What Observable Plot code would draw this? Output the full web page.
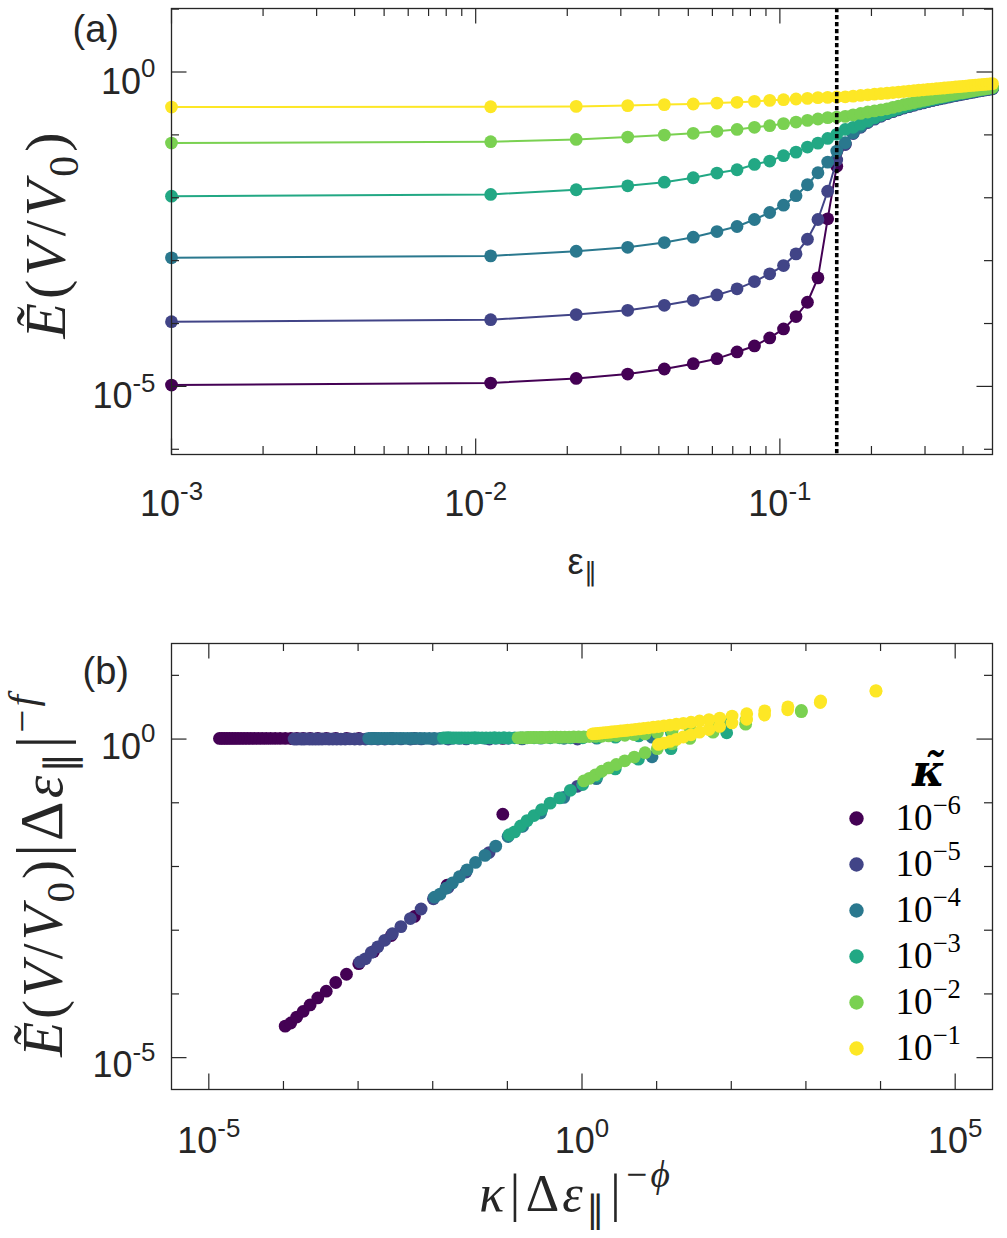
<!DOCTYPE html>
<html>
<head>
<meta charset="utf-8">
<script src="https://cdn.jsdelivr.net/npm/d3@7"></script>
<script src="https://cdn.jsdelivr.net/npm/@observablehq/plot@0.6"></script>
<style>
  html, body { margin: 0; padding: 0; background: #fff; }
  #wrap { position: relative; width: 1007px; height: 1238px; overflow: hidden; }
  #wrap svg { display: block; }
  #legend { position: absolute; left: 830px; top: 740px; }
</style>
</head>
<body>
<div id="wrap"><div id="pa"></div><div id="pb"></div><div id="legend"></div></div>
<script>
// ---------------- data ----------------
const strain = [0.001, 0.0112, 0.0214, 0.0316, 0.0417, 0.0519, 0.0621, 0.0723, 0.0825, 0.0926,
  0.1028, 0.1130, 0.1232, 0.1334, 0.1436, 0.1538, 0.1640, 0.1741, 0.1843, 0.1945,
  0.2047, 0.2149, 0.2250, 0.2352, 0.2454, 0.2556, 0.2658, 0.2760, 0.2861, 0.2963,
  0.3065, 0.3167, 0.3269, 0.3371, 0.3472, 0.3574, 0.3676, 0.3778, 0.3880, 0.3982,
  0.4083, 0.4185, 0.4287, 0.4389, 0.4491, 0.4593, 0.4694, 0.4796, 0.4898, 0.5000];

const kappaLabels = ["1e-6", "1e-5", "1e-4", "1e-3", "1e-2", "1e-1"];
const kappaValues = [1e-6, 1e-5, 1e-4, 1e-3, 1e-2, 1e-1];
const kappaLegendText = ["10^\u22126", "10^\u22125", "10^\u22124", "10^\u22123", "10^\u22122", "10^\u22121"];
const kappaColors = ["#440154", "#414487", "#2a788e", "#22a884", "#7ad151", "#fde725"];

const energy_1e6 = [1.05e-5, 1.13e-5, 1.34e-5, 1.57e-5, 1.89e-5, 2.30e-5, 2.76e-5, 3.53e-5, 4.40e-5, 5.90e-5,
  8.20e-5, 1.29e-4, 2.18e-4, 5.32e-4, 4.63e-3, 3.18e-2,
  0.0716, 0.107, 0.135, 0.160, 0.182, 0.202, 0.221, 0.239, 0.256, 0.272, 0.287, 0.302, 0.317, 0.330,
  0.344, 0.357, 0.370, 0.383, 0.394, 0.406, 0.418, 0.430, 0.442, 0.452, 0.462, 0.473, 0.484, 0.494,
  0.505, 0.514, 0.524, 0.535, 0.543, 0.553];
const energy_1e5 = [1.07e-4, 1.15e-4, 1.39e-4, 1.62e-4, 1.95e-4, 2.34e-4, 2.85e-4, 3.56e-4, 4.65e-4, 6.17e-4,
  8.36e-4, 1.28e-3, 2.19e-3, 4.51e-3, 1.27e-2, 3.98e-2,
  0.0702, 0.105, 0.132, 0.157, 0.178, 0.198, 0.217, 0.234, 0.251, 0.267, 0.281, 0.296, 0.311, 0.323,
  0.337, 0.350, 0.363, 0.375, 0.386, 0.398, 0.410, 0.421, 0.433, 0.443, 0.453, 0.464, 0.474, 0.484,
  0.495, 0.504, 0.514, 0.524, 0.532, 0.542];
const energy_1e4 = [1.11e-3, 1.19e-3, 1.41e-3, 1.63e-3, 1.94e-3, 2.36e-3, 2.90e-3, 3.49e-3, 4.51e-3, 5.83e-3,
  7.62e-3, 1.08e-2, 1.61e-2, 2.50e-2, 3.69e-2, 5.52e-2,
  0.0750, 0.108, 0.136, 0.161, 0.183, 0.203, 0.222, 0.240, 0.257, 0.273, 0.288, 0.303, 0.318, 0.331,
  0.345, 0.358, 0.371, 0.384, 0.395, 0.407, 0.419, 0.431, 0.443, 0.453, 0.463, 0.474, 0.485, 0.495,
  0.506, 0.515, 0.525, 0.536, 0.544, 0.554];
const energy_1e3 = [0.0106, 0.0113, 0.0134, 0.0155, 0.0177, 0.0208, 0.0247, 0.0279, 0.0339, 0.0383,
  0.0467, 0.0532, 0.0640, 0.0740, 0.0879, 0.102,
  0.122, 0.132, 0.148, 0.167, 0.188, 0.207, 0.226, 0.244, 0.262, 0.279, 0.294, 0.309, 0.324, 0.338,
  0.352, 0.366, 0.378, 0.392, 0.404, 0.416, 0.428, 0.440, 0.452, 0.462, 0.473, 0.484, 0.495, 0.506,
  0.516, 0.526, 0.536, 0.547, 0.556, 0.566];
const energy_1e2 = [0.0741, 0.0780, 0.0847, 0.0923, 0.0993, 0.106, 0.114, 0.122, 0.132, 0.140,
  0.151, 0.160, 0.170, 0.179, 0.188, 0.192,
  0.197, 0.208, 0.219, 0.231, 0.240, 0.249, 0.260, 0.274, 0.287, 0.302, 0.315, 0.327, 0.340, 0.354,
  0.365, 0.378, 0.392, 0.401, 0.413, 0.426, 0.438, 0.450, 0.462, 0.468, 0.479, 0.490, 0.501, 0.512,
  0.522, 0.532, 0.536, 0.547, 0.556, 0.566];
const energy_1e1 = [0.277, 0.280, 0.284, 0.292, 0.303, 0.310, 0.321, 0.330, 0.341, 0.354,
  0.363, 0.372, 0.381, 0.391, 0.395, 0.400,
  0.403, 0.413, 0.424, 0.434, 0.444, 0.453, 0.461, 0.471, 0.480, 0.488, 0.497, 0.505, 0.513, 0.521,
  0.528, 0.536, 0.543, 0.551, 0.557, 0.565, 0.571, 0.578, 0.585, 0.592, 0.598, 0.605, 0.611, 0.617,
  0.624, 0.630, 0.635, 0.641, 0.647, 0.653];

// critical strain (dotted line) and scaling exponents used for the collapse in panel (b)
const EPS_C = 0.1538;
const PHI = 2.48;
const F_EXP = 0.58;

// tick values
const xMajorA = [1e-3, 1e-2, 1e-1];
const xMinorA = [0.002, 0.003, 0.004, 0.005, 0.006, 0.007, 0.008, 0.009,
  0.02, 0.03, 0.04, 0.05, 0.06, 0.07, 0.08, 0.09, 0.2, 0.3, 0.4];
const yMajorA = [1e-5, 1];
const yMinorA = [1e-6, 1e-4, 1e-3, 1e-2, 1e-1, 10];
const xMajorB = [1e-5, 1, 1e5];
const xMinorB = [1e-4, 1e-3, 1e-2, 1e-1, 10, 100, 1e3, 1e4];
const yMajorB = [1e-5, 1];
const yMinorB = [1e-4, 1e-3, 1e-2, 1e-1, 10];

// ---------------- tables ----------------
const energySeries = [energy_1e6, energy_1e5, energy_1e4, energy_1e3, energy_1e2, energy_1e1];
const rowsA = [];
kappaLabels.forEach((lab, s) => strain.forEach((x, k) => rowsA.push({kappa: lab, s, x, E: energySeries[s][k]})));
const rowsB = rowsA
  .filter(d => Math.abs(d.x - EPS_C) > 1e-9)
  .map(d => {
    const de = Math.abs(d.x - EPS_C);
    return {kappa: d.kappa, s: d.s, bx: kappaValues[d.s] * Math.pow(de, -PHI), by: d.E * Math.pow(de, -F_EXP)};
  });

// ---------------- rich text helper (sub/superscripts, italics) ----------------
const NS = "http://www.w3.org/2000/svg";
const RICH = new Map();
function rich(segs, opts = {}) { const plain = segs.map(s => s[0]).join(""); RICH.set(plain, {segs, opts}); return plain; }
function applyRich(root) {
  root.querySelectorAll("text").forEach(t => {
    const txt = t.textContent;
    let entry = RICH.get(txt);
    if (!entry) { const m = /^10\^(.+)$/.exec(txt); if (m) entry = {segs: [["10"], [m[1], {sup: 1}]], opts: {}}; }
    if (!entry) return;
    const {segs, opts} = entry;
    const fs = parseFloat(getComputedStyle(t).fontSize);
    if (opts.ls) t.setAttribute("letter-spacing", opts.ls + "px");
    while (t.firstChild) t.removeChild(t.firstChild);
    let cur = 0;
    for (const [s, o = {}] of segs) {
      const ts = document.createElementNS(NS, "tspan");
      ts.textContent = s;
      const shift = o.sup ? -0.45 : o.sub ? 0.22 : 0;
      let size = (o.sup || o.sub) ? 0.72 : 1;
      if (o.scale) size *= o.scale;
      if (size !== 1) ts.setAttribute("font-size", (size * fs) + "px");
      if (o.i) ts.setAttribute("font-style", "italic");
      if (shift !== cur) { ts.setAttribute("dy", ((shift - cur) * fs) + "px"); cur = shift; }
      if (o.dx) ts.setAttribute("dx", (o.dx * fs) + "px");
      t.appendChild(ts);
    }
  });
}

const ink = "#262626";
const serif = "'Liberation Serif', 'Times New Roman', serif";
const sans = "'Liberation Sans', Arial, Helvetica, sans-serif";
const W = 1007;

function boxTicks(xMaj, xMin, yMaj, yMin, iw, ih) {
  const st = {stroke: ink, strokeWidth: 1.2};
  const LM = 15.5, Lm = 8;
  return [
    Plot.tickX(xMaj, {x: d => d, insetTop: ih - LM, ...st}),
    Plot.tickX(xMaj, {x: d => d, insetBottom: ih - LM, ...st}),
    Plot.tickX(xMin, {x: d => d, insetTop: ih - Lm, ...st}),
    Plot.tickX(xMin, {x: d => d, insetBottom: ih - Lm, ...st}),
    Plot.tickY(yMaj, {y: d => d, insetRight: iw - LM, ...st}),
    Plot.tickY(yMaj, {y: d => d, insetLeft: iw - LM, ...st}),
    Plot.tickY(yMin, {y: d => d, insetRight: iw - Lm, ...st}),
    Plot.tickY(yMin, {y: d => d, insetLeft: iw - Lm, ...st}),
    Plot.frame({stroke: ink, strokeWidth: 1.3})
  ];
}
const expFmt = d => "10^" + Math.round(Math.log10(d));
const DOT_R = 6.4;

// ---------------- panel (a) ----------------
const A = {h: 620, mt: 8, mb: 166, ml: 171, mr: 15};
const iwA = W - A.ml - A.mr, ihA = A.h - A.mt - A.mb;
const marksA = [];
kappaLabels.forEach(lab => {
  const rows = rowsA.filter(d => d.kappa === lab);
  marksA.push(Plot.line(rows, {x: "x", y: "E", stroke: "kappa", strokeWidth: 2}));
  marksA.push(Plot.dot(rows, {x: "x", y: "E", fill: "kappa", r: DOT_R}));
});
const labelAy = rich([["Ẽ", {i: 1}], ["("], ["V", {i: 1}], ["/"], ["V", {i: 1}], ["0", {sub: 1}], [")"]], {ls: 4});
const labelAx = rich([["ε"], ["∥", {sub: 1}]]);
const plotA = Plot.plot({
  width: W, height: A.h, marginTop: A.mt, marginBottom: A.mb, marginLeft: A.ml, marginRight: A.mr,
  style: {fontFamily: sans, fontSize: "36px", color: ink, background: "#fff", overflow: "visible"},
  x: {type: "log", domain: [0.001, 0.5], label: null},
  y: {type: "log", domain: [8.26e-7, 10.23], label: null},
  color: {domain: kappaLabels, range: kappaColors},
  marks: [
    ...marksA,
    Plot.ruleX([EPS_C], {stroke: "#000", strokeWidth: 3.6, strokeDasharray: "4.3,2.7"}),
    ...boxTicks(xMajorA, xMinorA, yMajorA, yMinorA, iwA, ihA),
    Plot.axisX(xMajorA, {anchor: "bottom", tickSize: 0, tickPadding: 36, tickFormat: expFmt, fontSize: 36, label: null}),
    Plot.axisY(yMajorA, {anchor: "left", tickSize: 0, tickPadding: 16, dy: 10, tickFormat: expFmt, fontSize: 36, label: null}),
    Plot.text([labelAx], {text: d => d, frameAnchor: "bottom", dy: 119, lineAnchor: "bottom", fontSize: 36, fontFamily: sans}),
    Plot.text([labelAy], {text: d => d, frameAnchor: "left", dx: 46 - A.ml, dy: 2, rotate: -90, textAnchor: "middle", fontSize: 58, fontFamily: serif}),
    Plot.text(["(a)"], {text: d => d, frameAnchor: "top-left", dx: 72 - A.ml, dy: 41 - A.mt, textAnchor: "start", lineAnchor: "bottom", fontSize: 38, fontFamily: sans})
  ]
});

// ---------------- panel (b) ----------------
const B = {h: 618, mt: 23, mb: 149, ml: 171, mr: 15};
const iwB = W - B.ml - B.mr, ihB = B.h - B.mt - B.mb;
const marksB = kappaLabels.map(lab =>
  Plot.dot(rowsB.filter(d => d.kappa === lab), {x: "bx", y: "by", fill: "kappa", r: DOT_R}));
const labelBy = rich([["Ẽ", {i: 1}], ["("], ["V", {i: 1}], ["/"], ["V", {i: 1}], ["0", {sub: 1}], [")"],
  ["|", {scale: 1.15}], ["Δ", {scale: 1.08}], ["ε", {i: 1}], ["∥", {sub: 1}],
  ["|", {scale: 1.15}], ["−", {sup: 1}], ["f", {sup: 1, i: 1}]], {ls: 3});
const labelBx = rich([["κ", {i: 1}], ["|", {dx: 0.05}], ["Δ", {dx: 0.05}], ["ε", {i: 1}], ["∥", {sub: 1}],
  ["|", {dx: 0.05}], ["−", {sup: 1, dx: 0.05}], ["ϕ", {sup: 1, i: 1}]], {ls: 3});
const plotB = Plot.plot({
  width: W, height: B.h, marginTop: B.mt, marginBottom: B.mb, marginLeft: B.ml, marginRight: B.mr,
  style: {fontFamily: sans, fontSize: "36px", color: ink, background: "#fff", overflow: "visible"},
  x: {type: "log", domain: [3.162e-6, 3.162e5], label: null},
  y: {type: "log", domain: [3.162e-6, 31.62], label: null},
  color: {domain: kappaLabels, range: kappaColors},
  marks: [
    ...marksB,
    ...boxTicks(xMajorB, xMinorB, yMajorB, yMinorB, iwB, ihB),
    Plot.axisX(xMajorB, {anchor: "bottom", tickSize: 0, tickPadding: 38, tickFormat: expFmt, fontSize: 36, label: null}),
    Plot.axisY(yMajorB, {anchor: "left", tickSize: 0, tickPadding: 16, dy: 8, tickFormat: expFmt, fontSize: 36, label: null}),
    Plot.text([labelBx], {text: d => d, frameAnchor: "bottom", dx: -6, dy: 121, lineAnchor: "bottom", fontSize: 52, fontFamily: serif}),
    Plot.text([labelBy], {text: d => d, frameAnchor: "left", dx: 43 - B.ml, dy: 8, rotate: -90, textAnchor: "middle", fontSize: 57, fontFamily: serif}),
    Plot.text(["(b)"], {text: d => d, frameAnchor: "top-left", dx: 82 - B.ml, dy: 683 - 620 - B.mt, textAnchor: "start", lineAnchor: "bottom", fontSize: 38, fontFamily: sans})
  ]
});

// ---------------- legend (panel b) ----------------
const legendPlot = Plot.plot({
  width: 170, height: 330, margin: 0,
  style: {fontFamily: serif, fontSize: "36px", color: "#000", background: "transparent", overflow: "visible"},
  y: {type: "point", domain: kappaLabels, range: [77.7, 308.3], padding: 0, axis: null},
  color: {domain: kappaLabels, range: kappaColors},
  marks: [
    Plot.dot(kappaLabels, {y: d => d, fill: d => d, r: 7.2, frameAnchor: "left", dx: 26}),
    Plot.text(kappaLabels, {y: d => d, text: (d, i) => kappaLegendText[i], frameAnchor: "left", dx: 65, textAnchor: "start", fontSize: 37}),
    Plot.text(["κ\u0303"], {text: d => d, frameAnchor: "top-left", dx: 98, dy: 45, textAnchor: "middle", lineAnchor: "bottom", fontStyle: "italic", fontWeight: "bold", fontSize: 44, fontFamily: "'DejaVu Serif', serif"})
  ]
});

document.getElementById("pa").appendChild(plotA);
document.getElementById("pb").appendChild(plotB);
document.getElementById("legend").appendChild(legendPlot);
[plotA, plotB, legendPlot].forEach(applyRich);
</script>
</body>
</html>
